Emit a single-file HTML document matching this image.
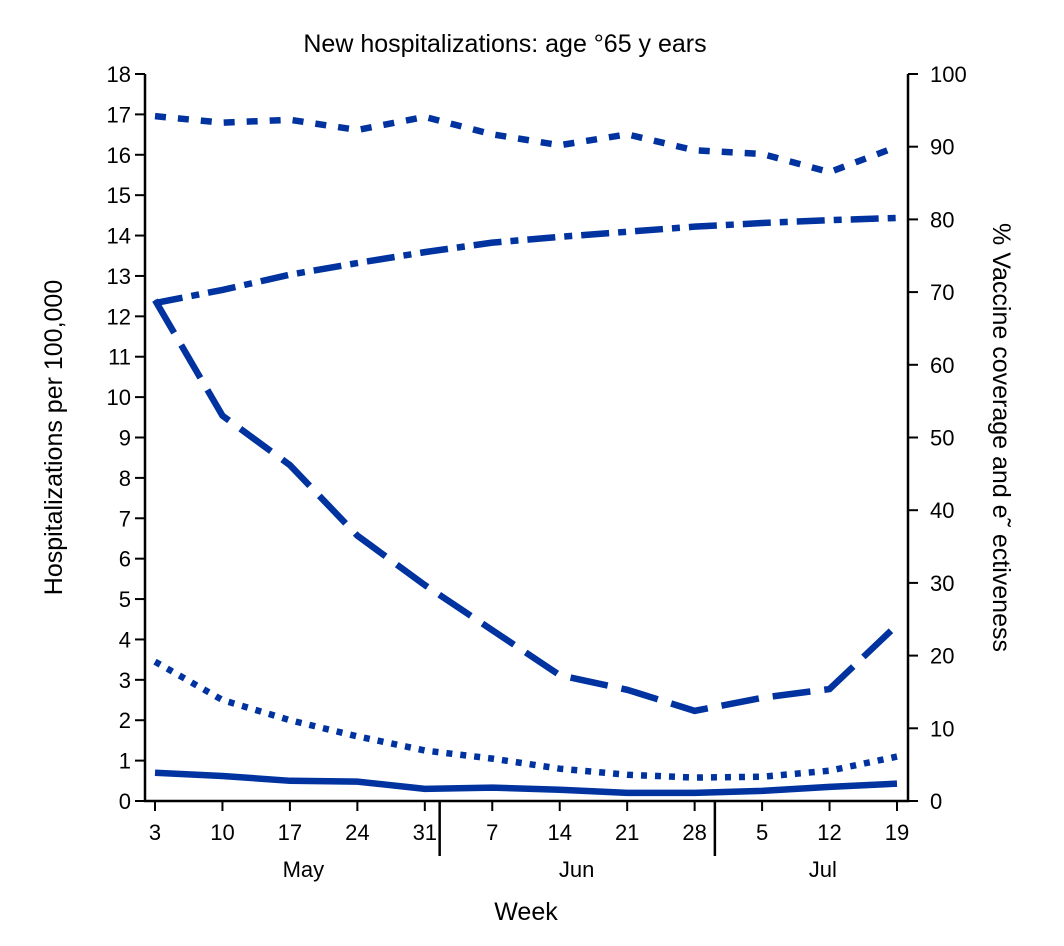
<!DOCTYPE html>
<html><head><meta charset="utf-8"><style>body{margin:0;background:#fff}svg{display:block;font-family:"Liberation Sans",sans-serif}</style></head>
<body>
<svg id="c" width="1064" height="946" viewBox="0 0 1064 946"></svg>
<script>
const weeks=["3","10","17","24","31","7","14","21","28","5","12","19"];
const months=["May","Jun","Jul"];
const hospVacc=[0.7,0.62,0.5,0.48,0.3,0.33,0.28,0.2,0.2,0.25,0.35,0.43];
const hospUnvacc=[3.45,2.5,2.0,1.6,1.25,1.05,0.8,0.65,0.58,0.6,0.75,1.1];
const effectiveness=[68.9,53,46.2,36.5,29.7,23.5,17.3,15.3,12.4,14.2,15.4,24.2];
const coverage=[68.5,70.3,72.4,74,75.5,76.8,77.6,78.3,79,79.5,79.9,80.2];
const upperDotted=[94.2,93.3,93.7,92.3,94.1,91.7,90.2,91.7,89.5,89,86.5,90];
const leftTicks=[0,1,2,3,4,5,6,7,8,9,10,11,12,13,14,15,16,17,18];
const rightTicks=[0,10,20,30,40,50,60,70,80,90,100];
const NS="http://www.w3.org/2000/svg",svg=document.getElementById('c');
const X0=145,X1=908,Y0=801,Y1=74,C="#0033a0";
const xs=i=>155+i*(897-155)/(weeks.length-1);
const yl=v=>Y0-(Y0-Y1)*v/18;
const yr=v=>Y0-(Y0-Y1)*v/100;
function mk(t,a,txt){const e=document.createElementNS(NS,t);for(const k in a)e.setAttribute(k,a[k]);if(txt!==undefined)e.textContent=txt;svg.appendChild(e);return e;}
let e;
e=mk('text',{x:505,y:52,'text-anchor':'middle','font-size':25},'New hospitalizations: age °65 y ears');


e=mk('path',{d:`M${X0} ${Y1}V${Y0}H${X1}V${Y1}`,fill:'none',stroke:'#000','stroke-width':2.5});


leftTicks.forEach(v=>{
 e=mk('line',{x1:X0-10,x2:X0,y1:yl(v),y2:yl(v),stroke:'#000','stroke-width':2});
 
 
 e=mk('text',{x:X0-14,y:yl(v)+8,'text-anchor':'end','font-size':22},v);
 
 
});
rightTicks.forEach(v=>{
 e=mk('line',{x1:X1,x2:X1+10,y1:yr(v),y2:yr(v),stroke:'#000','stroke-width':2});
 
 
 e=mk('text',{x:X1+22,y:yr(v)+8,'font-size':22},v);
 
 
});
weeks.forEach((w,i)=>{
 e=mk('line',{x1:xs(i),x2:xs(i),y1:Y0,y2:Y0+10,stroke:'#000','stroke-width':2});
 
 
 e=mk('text',{x:xs(i),y:Y0+39,'text-anchor':'middle','font-size':22},w);
 
 
});
[4.22,8.3].forEach(p=>{
 e=mk('line',{x1:xs(0)+p*(xs(1)-xs(0)),x2:xs(0)+p*(xs(1)-xs(0)),y1:Y0,y2:Y0+55,stroke:'#000','stroke-width':2.5});
 
 
});
[2.2,6.25,9.9].forEach((p,i)=>{
 e=mk('text',{x:xs(0)+p*(xs(1)-xs(0)),y:Y0+76,'text-anchor':'middle','font-size':22},months[i]);
 
 
});
e=mk('text',{x:526,y:920,'text-anchor':'middle','font-size':25},'Week');


e=mk('text',{x:0,y:0,'text-anchor':'middle','font-size':25,transform:`translate(62,${(Y0+Y1)/2}) rotate(-90)`},'Hospitalizations per 100,000');


e=mk('text',{x:0,y:0,'text-anchor':'middle','font-size':25,transform:`translate(993,${(Y0+Y1)/2}) rotate(90)`},'% Vaccine coverage and e˜ ectiveness');


function line(vals,f,dash,name){
 const d=vals.map((v,i)=>(i?'L':'M')+xs(i)+' '+f(v)).join('');
 const p=mk('path',{d,fill:'none',stroke:C,'stroke-width':6.5,'stroke-dasharray':dash,'stroke-linecap':'butt'});
 
 
}
line(hospVacc,yl,'none','line-hosp-vaccinated');
line(hospUnvacc,yl,'6 8','line-hosp-unvaccinated');
line(effectiveness,yr,'38 14','line-effectiveness');
line(coverage,yr,'28 9 8 9','line-coverage');
line(upperDotted,yr,'11 12','line-upper-dotted');
</script>
</body></html>
